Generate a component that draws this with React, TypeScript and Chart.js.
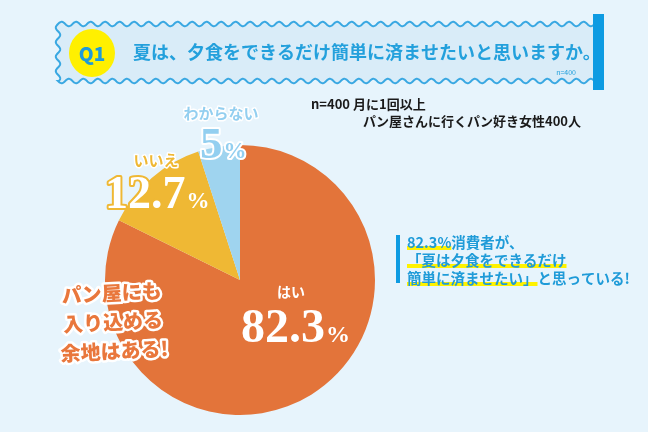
import React, { useEffect, useRef } from "react";
import { Chart, registerables } from "chart.js";

Chart.register(...registerables);

// ---- data ----
const categories = ["はい", "いいえ", "わからない"];
const values = [82.3, 12.7, 5];
const sliceColors = ["#e3743a", "#efb834", "#9fd4ef"];
const labelColors = ["#ffffff", "#efb834", "#93cff0"];

const questionNo = "Q1";
const titleText = "夏は、夕食をできるだけ簡単に済ませたいと思いますか。";
const sampleNote = "n=400";
const subtitleLines = ["n=400 月に1回以上", "パン屋さんに行くパン好き女性400人"];
const leftCallout = ["パン屋にも", "入り込める", "余地はある!"];
const rightCalloutLines: [string, boolean][][] = [
  [["82.3%", true], ["消費者が、", false]],
  [["「夏は夕食をできるだけ", true]],
  [["簡単に済ませたい」", true], ["と思っている!", false]],
];

const BG = "#e7f4fc";
const BLUE = "#1f9bd8";
const JP = '"Noto Sans CJK JP", "Noto Sans", sans-serif';
const SERIF = '"Liberation Serif", "DejaVu Serif", serif';

function wavyPath(ctx: CanvasRenderingContext2D, x0: number, y0: number, x1: number, y1: number, amp: number, period: number) {
  ctx.beginPath();
  const k = (2 * Math.PI) / period;
  ctx.moveTo(x0, y0);
  for (let x = x0; x <= x1; x += 0.5) ctx.lineTo(x, y0 - amp * Math.sin((x - x0) * k));
  ctx.lineTo(x1, y1);
  for (let x = x1; x >= x0; x -= 0.5) ctx.lineTo(x, y1 + amp * Math.sin((x - x0) * k));
  for (let y = y1; y >= y0; y -= 0.5) ctx.lineTo(x0 - amp * Math.sin((y - y0) * k), y);
  ctx.closePath();
}

function pct(v: number) {
  return String(v);
}

function drawPercent(
  ctx: CanvasRenderingContext2D,
  v: number,
  x: number,
  baseline: number,
  size: number,
  fill: string,
  stroke: string | null,
  strokeW: number
) {
  const num = pct(v);
  ctx.save();
  ctx.textAlign = "left";
  ctx.textBaseline = "alphabetic";
  ctx.lineJoin = "round";
  ctx.font = `bold ${size}px ${SERIF}`;
  const w = ctx.measureText(num).width;
  const pSize = Math.round(size * 0.5);
  if (stroke) {
    ctx.strokeStyle = stroke;
    ctx.lineWidth = strokeW;
    ctx.strokeText(num, x, baseline);
    ctx.font = `bold ${pSize}px ${SERIF}`;
    ctx.strokeText("%", x + w + 1, baseline);
  }
  ctx.fillStyle = fill;
  ctx.font = `bold ${size}px ${SERIF}`;
  ctx.fillText(num, x, baseline);
  ctx.font = `bold ${pSize}px ${SERIF}`;
  ctx.fillText("%", x + w + 1, baseline);
  ctx.restore();
}

function outlinedText(
  ctx: CanvasRenderingContext2D,
  text: string,
  x: number,
  y: number,
  font: string,
  fill: string,
  stroke: string | null,
  strokeW: number,
  align: CanvasTextAlign = "center"
) {
  ctx.save();
  ctx.font = font;
  ctx.textAlign = align;
  ctx.textBaseline = "middle";
  ctx.lineJoin = "round";
  if (stroke) {
    ctx.strokeStyle = stroke;
    ctx.lineWidth = strokeW;
    ctx.strokeText(text, x, y);
  }
  ctx.fillStyle = fill;
  ctx.fillText(text, x, y);
  ctx.restore();
}

const decorPlugin = {
  id: "decor",
  beforeDraw(chart: any) {
    const ctx: CanvasRenderingContext2D = chart.ctx;
    ctx.save();
    ctx.fillStyle = BG;
    ctx.fillRect(0, 0, chart.width, chart.height);

    // header box
    wavyPath(ctx, 58, 24, 594, 81, 2.2, 14.5);
    ctx.fillStyle = "#d9ecf8";
    ctx.fill();
    ctx.strokeStyle = "#3aa8e2";
    ctx.lineWidth = 2;
    ctx.stroke();
    ctx.fillStyle = "#0e9be2";
    ctx.fillRect(593, 14, 11, 76);

    // Q1 circle
    ctx.beginPath();
    ctx.ellipse(92, 53, 23, 24, 0, 0, Math.PI * 2);
    ctx.fillStyle = "#fff000";
    ctx.fill();
    ctx.font = `900 19px ${JP}`;
    ctx.fillStyle = BLUE;
    ctx.textAlign = "center";
    ctx.textBaseline = "middle";
    ctx.fillText(questionNo, 92, 54);

    // title
    ctx.font = `bold 18px ${JP}`;
    ctx.textAlign = "left";
    ctx.fillStyle = "#23a0dc";
    ctx.fillText(titleText, 133, 52);
    ctx.font = `7px ${JP}`;
    ctx.textAlign = "right";
    ctx.fillText(sampleNote, 576, 72);

    // subtitle
    ctx.fillStyle = "#1a1a1a";
    ctx.font = `bold 13px ${JP}`;
    ctx.textAlign = "left";
    ctx.fillText(subtitleLines[0], 311, 104);
    ctx.fillText(subtitleLines[1], 363, 121);
    ctx.restore();
  },
  afterDraw(chart: any) {
    const ctx: CanvasRenderingContext2D = chart.ctx;
    ctx.save();

    // slice labels
    outlinedText(ctx, categories[2], 221, 113, `bold 15px ${JP}`, labelColors[2], "#ffffff", 3);
    drawPercent(ctx, values[2], 200, 158, 45, labelColors[2], "#ffffff", 4);

    outlinedText(ctx, categories[1], 156, 160, `bold 15px ${JP}`, labelColors[1], "#ffffff", 3);
    drawPercent(ctx, values[1], 105, 208, 46, "#ffffff", labelColors[1], 4);

    outlinedText(ctx, categories[0], 291, 292, `bold 14px ${JP}`, labelColors[0], null, 0);
    drawPercent(ctx, values[0], 241, 342, 48, "#ffffff", null, 0);

    // left callout
    ctx.save();
    ctx.translate(113, 322);
    ctx.rotate(-0.05);
    leftCallout.forEach((line, i) => {
      outlinedText(ctx, line, 0, (i - 1) * 29, `900 20px ${JP}`, "#e9773c", "#ffffff", 5);
    });
    ctx.restore();

    // right callout
    ctx.fillStyle = "#0e9be2";
    ctx.fillRect(396, 235, 4, 48);
    ctx.font = `bold 14.5px ${JP}`;
    ctx.textAlign = "left";
    ctx.textBaseline = "middle";
    rightCalloutLines.forEach((segs, i) => {
      const y = 242 + i * 18;
      let x = 407;
      segs.forEach(([t, hl]) => {
        const w = ctx.measureText(t).width;
        if (hl) {
          ctx.fillStyle = "#fff200";
          ctx.fillRect(x, y + 4, w, 4);
        }
        ctx.fillStyle = BLUE;
        ctx.fillText(t, x, y);
        x += w;
      });
    });
    ctx.restore();
  },
};

export default function App() {
  const ref = useRef<HTMLCanvasElement>(null);
  useEffect(() => {
    document.body.style.margin = "0";
    const canvas = ref.current!;
    const chart = new Chart(canvas, {
      type: "pie",
      data: {
        labels: categories,
        datasets: [
          {
            data: values,
            backgroundColor: sliceColors,
            borderWidth: 0,
          },
        ],
      },
      options: {
        responsive: false,
        animation: false,
        layout: { padding: { left: 105, right: 273, top: 145, bottom: 17 } },
        plugins: { legend: { display: false }, tooltip: { enabled: false } },
      },
      plugins: [decorPlugin],
    });
    return () => chart.destroy();
  }, []);
  return (
    <div style={{ position: "absolute", left: 0, top: 0, width: 648, height: 432, background: BG }}>
      <canvas ref={ref} width={648} height={432} />
    </div>
  );
}
